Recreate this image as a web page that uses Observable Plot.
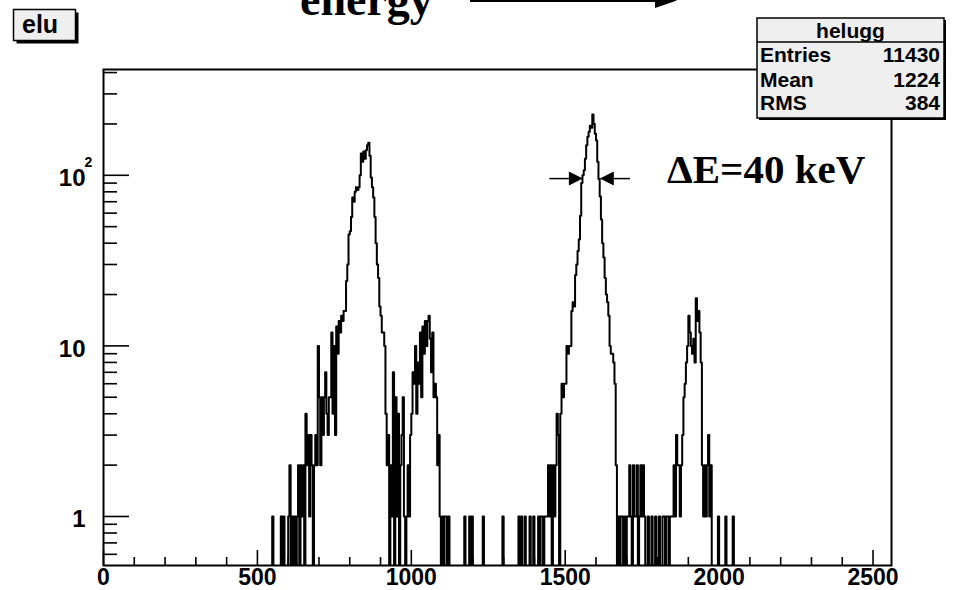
<!DOCTYPE html>
<html><head><meta charset="utf-8">
<script src="https://cdn.jsdelivr.net/npm/d3@7"></script>
<script src="https://cdn.jsdelivr.net/npm/@observablehq/plot@0.6"></script>
<style>
body{margin:0;background:#fff;}
#chart{position:relative;width:966px;height:590px;overflow:hidden;}
</style></head><body><div id="chart"></div>
<script>
// ---------------- data ----------------
const binWidth = 4;
const xDomainMax = 2560;
const yDomain = [0.516, 417];

const peak1Start = 540;
const peak1Counts = [
  0,0,1,0,0,0,0,0,0,1, 0,1,0,0,0,1,2,0,1,0,
  1,0,1,2,0,2,1,2,0,4, 2,3,1,3,2,0,2,3,2,10,
  5,2,5,3,5,7,4,3,5,5, 12,4,10,3,13,9,14,12,15,14,
  16,16,24,30,45,47,57,74,70,80, 85,82,85,100,134,120,138,125,140,150,
  155,130,97,85,74,57,40,30,25,17, 15,12,12,10,4,2,3,0,2,1,
  7,0,5,1,4,0,2,3,5,1, 0,1,2,1,3,4,7,6,10,4,
  8,6,12,5,13,9,14,10,14,15, 11,7,12,5,6,5,2,3,1,0,
  1,0,1,1,0,1,0
];
const singleHits = [1172, 1188, 1196, 1232, 1296, 1348, 1356, 1368, 1384, 1396, 1996, 2020, 2044];
const peak2Start = 1408;
const peak2Counts = [
  0,1,0,1,1,0,1,1,1,2, 1,2,0,2,1,2,4,3,0,4,
  6,5,6,6,10,9,10,10,16,18, 17,26,30,36,42,58,90,100,107,125,
  150,168,180,195,190,227,200,175,160,120, 95,75,55,40,33,25,20,18,15,10,
  9,9,8,6,2,0,1,0,1,1, 0,1,0,1,1,2,1,0,2,1,
  1,2,0,1,2,1,2,1,0
];
const peak3Start = 1764;
const peak3Counts = [
  0,1,0,0,1,0,0,1,0,0, 1,0,0,1,1,0,1,1,0,1,
  1,1,2,1,3,2,2,1,2,3, 5,6,8,10,15,12,10,9,11,8,
  19,14,16,12,8,2,1,2,1,2, 3,1,2,0
];

const xMajorTicks = [0, 500, 1000, 1500, 2000, 2500];
const xMinorTicks = [100,200,300,400,600,700,800,900,1100,1200,1300,1400,1600,1700,1800,1900,2100,2200,2300,2400];
const yMajorTicks = [1, 10, 100];
const yMinorTicks = [0.6,0.7,0.8,0.9,2,3,4,5,6,7,8,9,20,30,40,50,60,70,80,90,200,300,400];

const histTitle = "elu";
const statsTitle = "helugg";
const statsRows = [["Entries", "11430"], ["Mean", "1224"], ["RMS", "384"]];
const topLabel = "energy";
const fwhmLabel = "\u0394E=40 keV";
const fwhmLevel = 95;
const fwhmArrowLeft = [1450, 1559];   // tail, tip
const fwhmArrowRight = [1712, 1614];  // tail, tip

// ---------------- build histogram ----------------
const nBins = xDomainMax / binWidth;
const counts = new Array(nBins).fill(0);
function place(start, arr) { arr.forEach((c, i) => { counts[start / binWidth + i] = c; }); }
place(peak1Start, peak1Counts);
place(peak2Start, peak2Counts);
place(peak3Start, peak3Counts);
singleHits.forEach(x => { counts[x / binWidth] = 1; });
const ZERO_FLOOR = 0.1; // below the axis, clipped away
const pts = counts.map((c, i) => ({x: i * binWidth, y: c > 0 ? c : ZERO_FLOOR}));
pts.push({x: xDomainMax, y: pts[pts.length - 1].y});

// ---------------- plot ----------------
const W = 966, H = 590;
const mL = 103, mR = 75, mT = 69, mB = 25;
const plotW = W - mL - mR, plotH = H - mT - mB;
const font = "'Liberation Sans', Arial, sans-serif";

const plot = Plot.plot({
  width: W, height: H,
  marginLeft: mL, marginRight: mR, marginTop: mT, marginBottom: mB,
  x: {domain: [0, xDomainMax]},
  y: {type: "log", domain: yDomain},
  style: {background: "white", color: "black", fontFamily: font},
  marks: [
    Plot.line(pts, {x: "x", y: "y", curve: "step-after", stroke: "black", strokeWidth: 2, clip: true}),
    Plot.tickX(xMinorTicks, {x: d => d, insetTop: plotH - 8, stroke: "black", strokeWidth: 1.6}),
    Plot.tickX(xMajorTicks, {x: d => d, insetTop: plotH - 15, stroke: "black", strokeWidth: 1.6}),
    Plot.tickY(yMinorTicks, {y: d => d, insetRight: plotW - 14, stroke: "black", strokeWidth: 1.6}),
    Plot.tickY(yMajorTicks, {y: d => d, insetRight: plotW - 26, stroke: "black", strokeWidth: 1.6}),
    Plot.axisX({ticks: xMajorTicks, tickSize: 0, tickPadding: 3, label: null, fontSize: 23, fontWeight: "bold", tickFormat: d => String(d)}),
    Plot.axisY({ticks: yMajorTicks, tickSize: 0, tickPadding: 18, dy: 3, label: null, fontSize: 24, fontWeight: "bold", tickFormat: d => d === 100 ? "10" : String(d)}),
    Plot.text([100], {y: d => d, text: () => "2", frameAnchor: "left", dx: -19, dy: -13, textAnchor: "start", fontSize: 14, fontWeight: "bold"}),
    Plot.frame({stroke: "black", strokeWidth: 2})
  ]
});
document.getElementById("chart").appendChild(plot);

// ---------------- annotations ----------------
const svg = d3.select(plot);
const xs = plot.scale("x"), ys = plot.scale("y");
const ann = svg.append("g").attr("text-anchor", "start");

function txt(x, y, s, opts) {
  return ann.append("text").attr("x", x).attr("y", y).text(s)
    .attr("text-anchor", opts.anchor || "start")
    .attr("font-family", opts.family || font)
    .attr("font-size", opts.size)
    .attr("font-weight", "bold")
    .attr("fill", "black");
}

// title box "elu"
ann.append("rect").attr("x", 16.5).attr("y", 12.5).attr("width", 62).attr("height", 31).attr("fill", "black");
ann.append("rect").attr("x", 13.5).attr("y", 9.5).attr("width", 62).attr("height", 31)
  .attr("fill", "#efefef").attr("stroke", "black").attr("stroke-width", 1.5);
txt(22, 33, histTitle, {size: 25});

// stats box
const sbX = 757, sbY = 18, sbW = 187, sbH = 100;
ann.append("rect").attr("x", sbX + 2).attr("y", sbY + 2).attr("width", sbW).attr("height", sbH).attr("fill", "black");
ann.append("rect").attr("x", sbX).attr("y", sbY).attr("width", sbW).attr("height", sbH)
  .attr("fill", "#efefef").attr("stroke", "black").attr("stroke-width", 1.5);
ann.append("line").attr("x1", sbX).attr("x2", sbX + sbW).attr("y1", 42).attr("y2", 42).attr("stroke", "black").attr("stroke-width", 1.5);
txt(sbX + sbW / 2, 38, statsTitle, {size: 21, anchor: "middle"});
const rowBase = [62, 87, 110];
statsRows.forEach((r, i) => {
  txt(sbX + 3, rowBase[i], r[0], {size: 21});
  txt(sbX + sbW - 4, rowBase[i], r[1], {size: 21, anchor: "end"});
});

// top "energy" label with arrow
const serif = "'Liberation Serif', 'Times New Roman', serif";
txt(300, 15, topLabel, {size: 46, family: serif});
ann.append("line").attr("x1", 470).attr("x2", 662).attr("y1", 0.5).attr("y2", 0.5).attr("stroke", "black").attr("stroke-width", 3);
ann.append("path").attr("d", "M655,-7L677,0.5L655,8Z").attr("fill", "black");

// FWHM arrows
function arrow(tail, tip) {
  const y = ys.apply(fwhmLevel);
  const x0 = xs.apply(tail), x1 = xs.apply(tip);
  const dir = Math.sign(x1 - x0);
  const hl = 14, hw = 7;
  ann.append("line").attr("x1", x0).attr("x2", x1 - dir * hl).attr("y1", y).attr("y2", y).attr("stroke", "black").attr("stroke-width", 1.5);
  ann.append("path").attr("d", `M${x1},${y}L${x1 - dir * hl},${y - hw}L${x1 - dir * hl},${y + hw}Z`).attr("fill", "black");
}
arrow(fwhmArrowLeft[0], fwhmArrowLeft[1]);
arrow(fwhmArrowRight[0], fwhmArrowRight[1]);
txt(667, 183, fwhmLabel, {size: 41, family: serif});
</script></body></html>
